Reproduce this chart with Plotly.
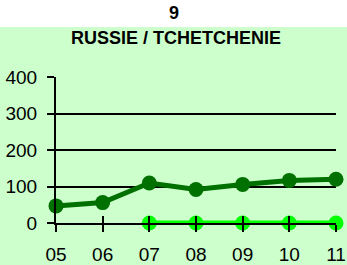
import plotly.graph_objects as go

years = ["05", "06", "07", "08", "09", "10", "11"]
serie_fonce = [47, 56, 110, 92, 106, 117, 120]
serie_claire = [None, None, 0, 0, 0, 0, 0]
y_ticks = [0, 100, 200, 300, 400]
titre_num = "9"
titre = "RUSSIE / TCHETCHENIE"

W, H = 347, 265
L, R, T, B = 56, 11, 77, 42
ph = H - T - B
pw = W - L - R

def py(p):
    return (H - B - p) / ph

def px(p):
    return (p - L) / pw

xi = list(range(len(years)))

fig = go.Figure()
fig.add_trace(go.Scatter(x=xi, y=serie_claire, mode="lines+markers",
                         line=dict(color="#00FF00", width=5),
                         marker=dict(color="#00FF00", size=15),
                         cliponaxis=False, showlegend=False))
fig.add_trace(go.Scatter(x=xi, y=serie_fonce, mode="lines+markers",
                         line=dict(color="#007000", width=5),
                         marker=dict(color="#007000", size=15),
                         cliponaxis=False, showlegend=False))
fig.add_trace(go.Scatter(x=xi, y=[None]*len(xi), xaxis="x2", showlegend=False,
                         hoverinfo="skip"))

font = dict(family="Liberation Sans, Arial, sans-serif", color="black")

fig.update_layout(
    width=W, height=H,
    margin=dict(l=L, r=R, t=T, b=B),
    paper_bgcolor="#CCFFCC", plot_bgcolor="#CCFFCC",
    xaxis=dict(range=[0, 6], tickvals=xi, ticktext=years, showgrid=False,
               zeroline=False, showline=True, linecolor="black", linewidth=2,
               ticks="outside", ticklen=7, tickwidth=2, tickcolor="black",
               tickfont=dict(size=19, **font), ticklabelstandoff=6,
               automargin=False),
    xaxis2=dict(range=[0, 6], tickvals=xi, overlaying="x", anchor="y",
                showticklabels=False, showgrid=False, zeroline=False,
                ticks="inside", ticklen=7, tickwidth=2, tickcolor="black",
                automargin=False),
    yaxis=dict(range=[0, 401], tickvals=y_ticks, showgrid=True,
               gridcolor="black", gridwidth=2, zeroline=False,
               showline=True, linecolor="black", linewidth=2,
               ticks="outside", ticklen=7, tickwidth=2, tickcolor="black",
               tickfont=dict(size=19, **font), ticklabelstandoff=6,
               automargin=False),
    shapes=[dict(type="rect", xref="paper", yref="paper",
                 x0=-1, x1=2, y0=py(27), y1=py(-50),
                 fillcolor="white", line=dict(width=0), layer="above")],
    annotations=[
        dict(text="<b>%s</b>" % titre_num, xref="paper", yref="paper",
             x=px(174), y=py(13), showarrow=False, xanchor="center",
             yanchor="middle", font=dict(size=18, **font)),
        dict(text="<b>%s</b>" % titre, xref="paper", yref="paper",
             x=px(175.5), y=py(38), showarrow=False, xanchor="center",
             yanchor="middle", font=dict(size=18, **font)),
    ],
)

fig.write_html("out.html",
               config={"displayModeBar": False},
               post_script="document.body.style.margin='0';"
                           "document.body.style.overflow='hidden';")
